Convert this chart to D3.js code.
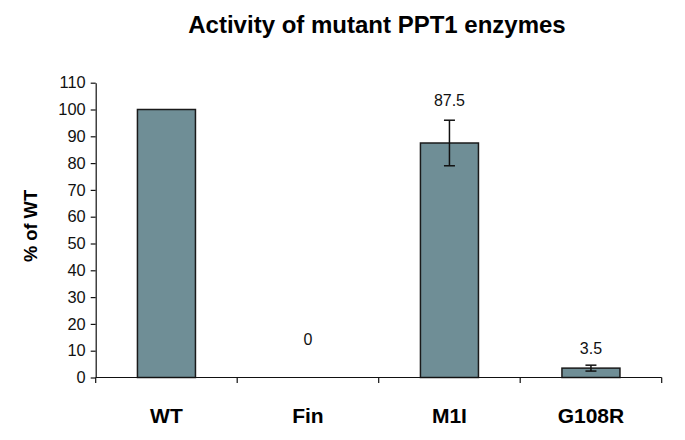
<!DOCTYPE html>
<html>
<head>
<meta charset="utf-8">
<script src="https://cdn.jsdelivr.net/npm/d3@7"></script>
<style>
  html, body { margin: 0; padding: 0; background: #fff; }
  svg { display: block; font-family: "Liberation Sans", Arial, sans-serif; }
</style>
</head>
<body>
<svg id="chart" width="685" height="440"></svg>
<script>
const categories = ["WT", "Fin", "M1I", "G108R"];
const values = [100, 0, 87.5, 3.5];
const errors = [null, null, 8.5, 1.1];
const valueLabels = [null, "0", "87.5", "3.5"];
const labelAt = [null, 12.3, 101.3, 8.6];
const yTicks = [0, 10, 20, 30, 40, 50, 60, 70, 80, 90, 100, 110];

(function () {
const svg = d3.select("#chart");
const mLeft = 95.7, mRight = 661.7, mTop = 82.7, mBottom = 377.5;

const x = d3.scaleBand().domain(categories).range([mLeft, mRight]).paddingInner(0.59).paddingOuter(0.295);
const band = d3.scaleBand().domain(categories).range([mLeft, mRight]);
const y = d3.scaleLinear().domain([0, 110]).range([mBottom, mTop]);

// Title
svg.append("text")
  .attr("x", 377).attr("y", 32.5)
  .attr("text-anchor", "middle")
  .attr("font-size", 24).attr("font-weight", "bold").attr("fill", "#000")
  .text("Activity of mutant PPT1 enzymes");

// Y axis label
svg.append("text")
  .attr("transform", "translate(37,226) rotate(-90)")
  .attr("text-anchor", "middle")
  .attr("font-size", 18.3).attr("font-weight", "bold").attr("fill", "#000")
  .text("% of WT");

// Bars
const data = categories.map((c, i) => ({c, v: values[i], e: errors[i], l: valueLabels[i], la: labelAt[i]}));
svg.append("g").selectAll("rect").data(data.filter(d => d.v > 0)).join("rect")
  .attr("x", d => x(d.c))
  .attr("y", d => y(d.v))
  .attr("width", x.bandwidth())
  .attr("height", d => y(0) - y(d.v))
  .attr("fill", "#6f8e96")
  .attr("stroke", "#1a1a1a")
  .attr("stroke-width", 1.5);

// Error bars
const eg = svg.append("g").attr("stroke", "#111").attr("stroke-width", 1.5);
data.filter(d => d.e != null).forEach(d => {
  const cx = band(d.c) + band.bandwidth() / 2;
  eg.append("line").attr("x1", cx).attr("x2", cx).attr("y1", y(d.v + d.e)).attr("y2", y(d.v - d.e));
  eg.append("line").attr("x1", cx - 5.5).attr("x2", cx + 5.5).attr("y1", y(d.v + d.e)).attr("y2", y(d.v + d.e));
  eg.append("line").attr("x1", cx - 5.5).attr("x2", cx + 5.5).attr("y1", y(d.v - d.e)).attr("y2", y(d.v - d.e));
});

// Value labels
svg.append("g").selectAll("text").data(data.filter(d => d.l != null)).join("text")
  .attr("x", d => band(d.c) + band.bandwidth() / 2)
  .attr("y", d => y(d.la))
  .attr("text-anchor", "middle")
  .attr("font-size", 16).attr("fill", "#111")
  .text(d => d.l);

// Y axis
const yAxis = svg.append("g").attr("transform", `translate(${mLeft},0)`)
  .call(d3.axisLeft(y).tickValues(yTicks).tickSize(5).tickPadding(5).tickSizeOuter(0));
yAxis.select(".domain").attr("stroke", "#111").attr("stroke-width", 1.2);
yAxis.selectAll(".tick line").attr("stroke", "#111").attr("stroke-width", 1.2);
yAxis.selectAll(".tick text").attr("font-size", 16.4).attr("fill", "#111").attr("font-family", "Liberation Sans, Arial, sans-serif");

// X axis
const xg = svg.append("g").attr("transform", `translate(0,${mBottom})`);
xg.append("line").attr("x1", mLeft).attr("x2", mRight).attr("y1", 0).attr("y2", 0)
  .attr("stroke", "#111").attr("stroke-width", 1.2);
const tickXs = [mLeft].concat(categories.map(c => band(c) + band.bandwidth()));
xg.selectAll("line.tk").data(tickXs).join("line").attr("class", "tk")
  .attr("x1", d => d).attr("x2", d => d).attr("y1", 0).attr("y2", 5.5)
  .attr("stroke", "#111").attr("stroke-width", 1.2);
xg.selectAll("text").data(categories).join("text")
  .attr("x", c => band(c) + band.bandwidth() / 2)
  .attr("y", 45.5)
  .attr("text-anchor", "middle")
  .attr("font-size", 21).attr("font-weight", "bold").attr("fill", "#000")
  .text(c => c);
})();
</script>
</body>
</html>
